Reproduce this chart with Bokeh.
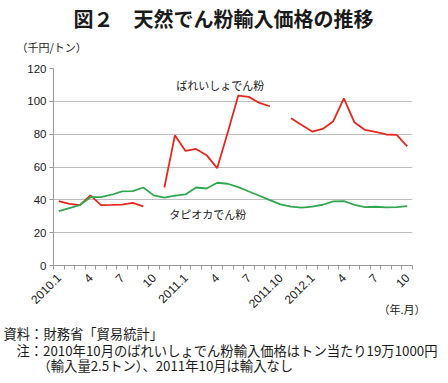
import math
from bokeh.plotting import figure
from bokeh.models import Range1d, FixedTicker, Label, Title, LinearAxis
from bokeh.embed import file_html
from bokeh.resources import INLINE

# ---- data ----
months = list(range(34))  # 2010.1 ... 2012.10
tick_positions = [0, 3, 6, 9, 12, 15, 18, 21, 24, 27, 30, 33]
tick_labels = ["2010.1", "4", "7", "10", "2011.1", "4", "7", "2011.10",
               "2012.1", "4", "7", "10"]
nan = float("nan")
potato = [39.2, 37.6, 36.8, 42.7, 36.8, 36.9, 37.1, 38.2, 36.0, nan,
          47.5, 79.3, 69.8, 71.0, 67.2, 59.3, 81.0, 103.5, 102.7, 99.0,
          97.0, nan, 89.7, 85.6, 81.6, 83.2, 87.9, 101.8, 87.2, 82.6,
          81.4, 79.8, 79.6, 72.5]
tapioca = [33.1, 35.0, 36.8, 41.6, 41.6, 43.1, 45.1, 45.3, 47.5, 42.7,
           41.3, 42.5, 43.3, 47.5, 46.9, 50.4, 49.8, 47.7, 45.1, 42.5,
           39.8, 37.2, 35.8, 35.2, 35.8, 37.0, 39.0, 39.2, 37.0, 35.6,
           35.8, 35.4, 35.6, 36.2]
y_ticks = [0, 20, 40, 60, 80, 100, 120]

title_text = "図２　天然でん粉輸入価格の推移"
unit_text = "（千円/トン）"
xunit_text = "（年.月）"
notes = ["資料：財務省「貿易統計」",
         "注：2010年10月のばれいしょでん粉輸入価格はトン当たり19万1000円",
         "（輸入量2.5トン）、2011年10月は輸入なし"]

JP = "Noto Sans CJK JP"
NUM = "Liberation Sans"
TXT = "#1a1a1a"
W, H = 446, 381
FL, FR, FT, FB = 53, 412, 68, 265   # frame edges in canvas pixels

p = figure(width=W, height=H, output_backend="svg", toolbar_location=None,
           x_range=Range1d(-0.5, 33.5), y_range=Range1d(0, 120),
           min_border_left=FL, min_border_right=W - FR, min_border_top=FT,
           min_border_bottom=H - FB)
p.outline_line_color = None

p.line(months, potato, line_color="#e8281e", line_width=1.8)
p.line(months, tapioca, line_color="#2fa84f", line_width=1.8)

p.xgrid.visible = False
p.ygrid.grid_line_color = "#bdbdbd"
p.ygrid.grid_line_width = 1

xa = p.xaxis[0]
xa.ticker = FixedTicker(ticks=tick_positions,
                        minor_ticks=[m - 0.5 for m in range(35)])
xa.major_label_overrides = {t: l for t, l in zip(tick_positions, tick_labels)}
xa.major_label_orientation = math.pi / 4
xa.major_tick_line_color = None
xa.major_tick_out = 4
xa.major_tick_in = 0
xa.minor_tick_line_color = "#999999"
xa.minor_tick_out = 4
xa.minor_tick_in = 0
xa.axis_line_color = "#999999"
xa.major_label_text_font = NUM
xa.major_label_text_font_size = "12px"
xa.major_label_text_color = TXT
xa.major_label_standoff = 6

ya = p.yaxis[0]
ya.ticker = FixedTicker(ticks=y_ticks)
ya.minor_tick_line_color = None
ya.major_tick_out = 4
ya.major_tick_in = 0
ya.major_tick_line_color = "#999999"
ya.axis_line_color = "#999999"
ya.major_label_text_font = NUM
ya.major_label_text_font_size = "11.5px"
ya.major_label_text_color = TXT
ya.major_label_standoff = 3

# x unit label: a bare second axis pulled up under the tick labels
ux = LinearAxis(ticker=FixedTicker(ticks=[32.5], minor_ticks=[]),
                major_label_overrides={32.5: xunit_text},
                axis_line_color=None, major_tick_line_color=None,
                minor_tick_line_color=None, major_tick_out=0,
                major_tick_in=0, minor_tick_out=0, minor_tick_in=0,
                major_label_standoff=-14, major_label_text_font=JP,
                major_label_text_font_size="11px",
                major_label_text_color=TXT)
p.add_layout(ux, "below")


def title(text, place, offset, valign, standoff, size, bold=False):
    p.add_layout(Title(text=text, align="left", offset=offset,
                       vertical_align=valign, standoff=standoff,
                       text_font=JP, text_font_size=size,
                       text_font_style="bold" if bold else "normal",
                       text_color=TXT), place)


# above (listed from the frame outward)
title(unit_text, "above", 16 - FL, "middle", 26, "11px")
title(title_text, "above", 20, "middle", -18, "20px", bold=True)

# below the axes: notes
title(notes[0], "below", 3 - FL, "middle", 6.7, "13.3px")
title(notes[1], "below", 16 - FL, "middle", -15.3, "13.3px")
title(notes[2], "below", 37 - FL, "middle", 1.7, "13.3px")

# series labels (data coordinates)
p.add_layout(Label(x=15.3, y=110, text="ばれいしょでん粉", text_font=JP,
                   text_font_size="11px", text_align="center",
                   text_baseline="middle", text_color=TXT))
p.add_layout(Label(x=14.1, y=31.1, text="タピオカでん粉", text_font=JP,
                   text_font_size="11px", text_align="center",
                   text_baseline="middle", text_color=TXT))

open("out.html", "w").write(file_html(p, INLINE))
